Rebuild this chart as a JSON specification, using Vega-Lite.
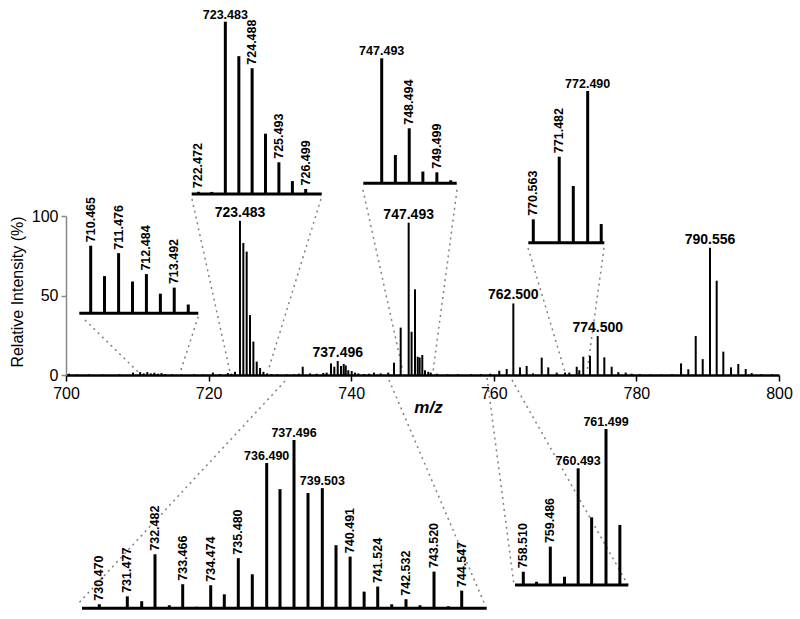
{
  "$schema": "https://vega.github.io/schema/vega-lite/v6.json",
  "width": 800,
  "height": 619,
  "autosize": "none",
  "padding": 0,
  "background": "white",
  "config": {"font": "Liberation Sans", "view": {"stroke": null}, "axis": {"grid": false}},
  "datasets": {
    "main": [
      {"mz":700.4,"i":0.8},{"mz":701.5,"i":0.4},{"mz":703.2,"i":0.5},{"mz":705.1,"i":0.4},{"mz":707.5,"i":0.5},{"mz":709.4,"i":1.5},{"mz":710.4,"i":1.8},{"mz":710.9,"i":1.0},{"mz":711.4,"i":1.8},{"mz":711.9,"i":1.0},{"mz":712.4,"i":1.4},{"mz":712.9,"i":0.8},{"mz":713.4,"i":1.2},{"mz":713.9,"i":0.6},{"mz":714.9,"i":0.5},{"mz":716.2,"i":0.4},{"mz":718.0,"i":0.5},{"mz":719.2,"i":0.4},{"mz":720.6,"i":1.5},{"mz":721.6,"i":0.6},{"mz":722.7,"i":1.2},{"mz":723.2,"i":0.8},{"mz":723.7,"i":2.0},
      {"mz":724.40,"i":97,"label":"723.483"},{"mz":724.87,"i":83},{"mz":725.34,"i":77.6},{"mz":725.81,"i":37.7},{"mz":726.28,"i":21},{"mz":726.75,"i":8.4},{"mz":727.22,"i":4.4},{"mz":727.69,"i":2},{"mz":728.2,"i":1},{"mz":728.8,"i":0.6},{"mz":729.6,"i":0.5},{"mz":731.0,"i":0.4},{"mz":732.0,"i":0.5},{"mz":732.65,"i":0.8},{"mz":733.2,"i":5.2},{"mz":734.22,"i":1.0},{"mz":735.16,"i":0.8},{"mz":736.09,"i":1.3},{"mz":736.56,"i":1.5},{"mz":737.17,"i":7.3},{"mz":737.63,"i":5.2},{"mz":738.11,"i":8.8,"label":"737.496"},{"mz":738.57,"i":5.7},{"mz":738.95,"i":6.9},{"mz":739.23,"i":6.0},{"mz":739.59,"i":3.0},{"mz":740.07,"i":2.5},{"mz":740.53,"i":1.5},{"mz":741.0,"i":1.0},{"mz":741.8,"i":0.6},{"mz":742.5,"i":0.8},{"mz":743.2,"i":1.5},{"mz":744.14,"i":1.0},{"mz":745.2,"i":1.5},
      {"mz":746.0,"i":7.7},{"mz":746.94,"i":29.8},{"mz":748.06,"i":95.8,"label":"747.493"},{"mz":748.47,"i":27.2},{"mz":748.95,"i":53.9},{"mz":749.33,"i":11.5},{"mz":749.6,"i":11},{"mz":749.97,"i":12.6},{"mz":750.35,"i":3},{"mz":750.81,"i":2},{"mz":751.15,"i":1.5},{"mz":752.0,"i":0.8},{"mz":753.5,"i":0.5},{"mz":755.0,"i":0.6},{"mz":756.8,"i":0.5},{"mz":758.2,"i":0.6},{"mz":759.5,"i":0.8},{"mz":760.77,"i":2.7},{"mz":761.81,"i":3.8},{"mz":762.74,"i":45,"label":"762.500"},{"mz":763.67,"i":4.8},{"mz":764.61,"i":5.7},{"mz":765.5,"i":1},{"mz":766.72,"i":10.9},{"mz":767.64,"i":4.8},{"mz":768.82,"i":1.5},{"mz":769.99,"i":1.5},{"mz":770.59,"i":1.5},{"mz":771.63,"i":5.2},{"mz":771.99,"i":3},{"mz":772.55,"i":11.5},{"mz":773.49,"i":12},{"mz":774.57,"i":24.5,"label":"774.500"},{"mz":775.50,"i":11.1},{"mz":776.53,"i":5.2},{"mz":777.46,"i":1.8},{"mz":778.50,"i":1.5},{"mz":779.34,"i":0.8},{"mz":780.5,"i":0.6},{"mz":782.0,"i":0.5},{"mz":783.5,"i":0.4},{"mz":785.0,"i":0.5},{"mz":786.26,"i":7.3},{"mz":787.28,"i":3.6},{"mz":788.32,"i":24.5},{"mz":789.30,"i":10},{"mz":790.32,"i":80,"label":"790.556"},{"mz":791.26,"i":59.3},{"mz":792.19,"i":14.7},{"mz":793.27,"i":4.8},{"mz":794.29,"i":6.9},{"mz":795.33,"i":3.8},{"mz":796.17,"i":1.2},{"mz":797.5,"i":0.5},{"mz":799.0,"i":0.4}
    ],
    "connectors": [
      {"from_mz":702.66,"from_int":34.6,"to_mz":710.1,"to_int":2},
      {"from_mz":718.55,"from_int":36.7,"to_mz":716.0,"to_int":1.5},
      {"from_mz":717.67,"from_int":110.7,"to_mz":723.0,"to_int":1.9},
      {"from_mz":735.76,"from_int":110.7,"to_mz":728.33,"to_int":2.5},
      {"from_mz":741.65,"from_int":116.4,"to_mz":747.27,"to_int":1.9},
      {"from_mz":754.84,"from_int":116.4,"to_mz":751.47,"to_int":1.9},
      {"from_mz":764.80,"from_int":79.9,"to_mz":769.99,"to_int":1.9},
      {"from_mz":775.46,"from_int":79.9,"to_mz":773.07,"to_int":1.9},
      {"from_mz":730.72,"from_int":-3.8,"to_mz":701.68,"to_int":-144},
      {"from_mz":745.3,"from_int":-3.1,"to_mz":758.77,"to_int":-144.7},
      {"from_mz":759.05,"from_int":-1.9,"to_mz":762.83,"to_int":-132.1},
      {"from_mz":762.55,"from_int":-3.1,"to_mz":778.82,"to_int":-132.1}
    ],
    "insetA": [
      {"mz":710.465,"i":100,"label":"710.465"},{"mz":710.965,"i":55},{"mz":711.476,"i":89,"label":"711.476"},{"mz":711.98,"i":47},{"mz":712.484,"i":58,"label":"712.484"},{"mz":712.99,"i":29},{"mz":713.492,"i":38,"label":"713.492"},{"mz":714.0,"i":13}
    ],
    "insetB": [
      {"mz":722.472,"i":1.3,"label":"722.472"},{"mz":722.97,"i":1.2},{"mz":723.483,"i":100,"label":"723.483"},{"mz":723.99,"i":80},{"mz":724.488,"i":73,"label":"724.488"},{"mz":724.99,"i":35},{"mz":725.493,"i":18.4,"label":"725.493"},{"mz":726.0,"i":7.5},{"mz":726.499,"i":2.9,"label":"726.499"}
    ],
    "insetC": [
      {"mz":747.493,"i":100,"label":"747.493"},{"mz":747.99,"i":22.6},{"mz":748.494,"i":44,"label":"748.494"},{"mz":748.99,"i":9.4},{"mz":749.499,"i":8.8,"label":"749.499"},{"mz":750.0,"i":2.4}
    ],
    "insetD": [
      {"mz":770.563,"i":15.4,"label":"770.563"},{"mz":771.482,"i":56.7,"label":"771.482"},{"mz":771.98,"i":37.4},{"mz":772.490,"i":100,"label":"772.490"},{"mz":772.97,"i":12.3}
    ],
    "insetE": [
      {"mz":730.470,"i":2.4,"label":"730.470"},{"mz":731.014,"i":0.6},{"mz":731.558,"i":7.1,"label":"731.477"},{"mz":732.117,"i":4.2},{"mz":732.634,"i":32.1,"label":"732.482"},{"mz":733.190,"i":1.8},{"mz":733.710,"i":14.3,"label":"733.466"},{"mz":734.254,"i":0.9},{"mz":734.798,"i":13.7,"label":"734.474"},{"mz":735.326,"i":8.3},{"mz":735.870,"i":29.8,"label":"735.480"},{"mz":736.414,"i":20.2},{"mz":736.973,"i":86.3,"label":"736.490"},{"mz":737.490,"i":70.8},{"mz":738.034,"i":100,"label":"737.496"},{"mz":738.578,"i":68.5},{"mz":739.134,"i":71.4,"label":"739.503"},{"mz":739.666,"i":37.5},{"mz":740.214,"i":30.7,"label":"740.491"},{"mz":740.758,"i":9.9},{"mz":741.286,"i":12.9,"label":"741.524"},{"mz":741.830,"i":2.4},{"mz":742.385,"i":5.4,"label":"742.532"},{"mz":742.929,"i":1.8},{"mz":743.473,"i":21.8,"label":"743.520"},{"mz":744.029,"i":1.2},{"mz":744.549,"i":10.5,"label":"744.547"},{"mz":745.105,"i":0.6}
    ],
    "insetF": [
      {"mz":758.51,"i":8.5,"label":"758.510"},{"mz":758.99,"i":2.1},{"mz":759.486,"i":24.6,"label":"759.486"},{"mz":760.0,"i":5.3},{"mz":760.493,"i":74.8,"label":"760.493"},{"mz":760.98,"i":43.4},{"mz":761.499,"i":100,"label":"761.499"},{"mz":762.0,"i":38.5}
    ]
  },
  "layer": [
    {
      "layer": [
        {
          "data": {"name": "connectors"},
          "mark": {"type": "rule", "strokeDash": [2, 4], "strokeWidth": 1.5, "color": "#808080"},
          "encoding": {
            "x": {"field": "from_mz", "type": "quantitative", "scale": {"domain": [700, 800], "range": [66, 779], "nice": false, "zero": false}, "axis": {"values": [700,720,740,760,780,800], "offset": -244, "domainColor": "black", "domainWidth": 2.5, "tickColor": "black", "tickWidth": 1.5, "tickSize": 6, "labelFontSize": 16, "labelColor": "black", "labelPadding": 4, "labelFlush": false, "title": "m/z", "titleFontSize": 17, "titleFontStyle": "italic", "titleFontWeight": "bold", "titleColor": "black", "titleX": 428, "titleY": 32, "titleBaseline": "middle", "titleAlign": "center"}},
            "y": {"field": "from_int", "type": "quantitative", "scale": {"domain": [0, 100], "range": [375, 216], "nice": false, "zero": false}, "axis": {"values": [0, 50, 100], "offset": -66, "domainColor": "#888888", "domainWidth": 1.5, "tickColor": "#888888", "tickWidth": 1.5, "tickSize": 5, "labelFontSize": 16, "labelColor": "black", "labelPadding": 3, "labelFlush": false, "title": "Relative Intensity (%)", "titleFontSize": 16, "titleFontWeight": "normal", "titleColor": "black", "titleX": -49, "titleY": 291.5, "titleAngle": 270, "titleBaseline": "middle", "titleAlign": "center"}},
            "x2": {"field": "to_mz"},
            "y2": {"field": "to_int"}
          }
        },
        {
          "data": {"name": "main"},
          "mark": {"type": "rule", "strokeWidth": 2, "color": "black"},
          "encoding": {
            "x": {"field": "mz", "type": "quantitative", "scale": {"domain": [700, 800], "range": [66, 779], "nice": false, "zero": false}},
            "y": {"field": "i", "type": "quantitative", "scale": {"domain": [0, 100], "range": [375, 216], "nice": false, "zero": false}},
            "y2": {"datum": 0}
          }
        },
        {
          "data": {"name": "main"},
          "transform": [{"filter": "isValid(datum.label)"}],
          "mark": {"type": "text", "baseline": "alphabetic", "dy": -4, "fontSize": 14, "fontWeight": "bold", "color": "black"},
          "encoding": {
            "x": {"field": "mz", "type": "quantitative", "scale": {"domain": [700, 800], "range": [66, 779], "nice": false, "zero": false}},
            "y": {"field": "i", "type": "quantitative", "scale": {"domain": [0, 100], "range": [375, 216], "nice": false, "zero": false}},
            "text": {"field": "label"}
          }
        }
      ]
    },
    {
      "data": {"name": "insetA"},
      "layer": [
        {"mark": {"type": "rule", "strokeWidth": 3, "color": "black"}, "encoding": {"x": {"field": "mz", "type": "quantitative", "scale": {"domain": [710.052, 714.364], "range": [79.3, 198.3], "nice": false, "zero": false}, "axis": null}, "y": {"field": "i", "type": "quantitative", "scale": {"domain": [0, 100], "range": [313.3, 245.7], "nice": false, "zero": false}, "axis": null}, "y2": {"datum": 0}}},
        {"data": {"values": [{}]}, "mark": {"type": "rule", "strokeWidth": 3, "color": "black"}, "encoding": {"x": {"datum": 710.052, "type": "quantitative", "axis": null}, "x2": {"datum": 714.364}, "y": {"datum": 0, "type": "quantitative", "axis": null}}},
        {"transform": [{"filter": "isValid(datum.label)"}, {"filter": {"not": {"field": "label", "oneOf": ["723.483","747.493","772.490","736.490","737.496","739.503","760.493","761.499"]}}}], "mark": {"type": "text", "angle": 270, "align": "left", "baseline": "middle", "dx": 3.5, "fontSize": 12.5, "fontWeight": "bold", "color": "black"}, "encoding": {"x": {"field": "mz", "type": "quantitative", "axis": null}, "y": {"field": "i", "type": "quantitative", "axis": null}, "text": {"field": "label"}}}
      ]
    },
    {
      "data": {"name": "insetB"},
      "layer": [
        {"mark": {"type": "rule", "strokeWidth": 3, "color": "black"}, "encoding": {"x": {"field": "mz", "type": "quantitative", "scale": {"domain": [722.22, 727.10], "range": [191.7, 321.7], "nice": false, "zero": false}, "axis": null}, "y": {"field": "i", "type": "quantitative", "scale": {"domain": [0, 100], "range": [194, 21.7], "nice": false, "zero": false}, "axis": null}, "y2": {"datum": 0}}},
        {"data": {"values": [{}]}, "mark": {"type": "rule", "strokeWidth": 3, "color": "black"}, "encoding": {"x": {"datum": 722.22, "type": "quantitative", "axis": null}, "x2": {"datum": 727.10}, "y": {"datum": 0, "type": "quantitative", "axis": null}}},
        {"transform": [{"filter": "isValid(datum.label)"}, {"filter": {"not": {"field": "label", "oneOf": ["723.483","747.493","772.490","736.490","737.496","739.503","760.493","761.499"]}}}], "mark": {"type": "text", "angle": 270, "align": "left", "baseline": "middle", "dx": 3.5, "fontSize": 12.5, "fontWeight": "bold", "color": "black"}, "encoding": {"x": {"field": "mz", "type": "quantitative", "axis": null}, "y": {"field": "i", "type": "quantitative", "axis": null}, "text": {"field": "label"}}},
        {"transform": [{"filter": {"field": "label", "oneOf": ["723.483","747.493","772.490","736.490","737.496","739.503","760.493","761.499"]}}], "mark": {"type": "text", "baseline": "alphabetic", "dy": -3, "fontSize": 12.5, "fontWeight": "bold", "color": "black"}, "encoding": {"x": {"field": "mz", "type": "quantitative", "axis": null}, "y": {"field": "i", "type": "quantitative", "axis": null}, "text": {"field": "label"}}}
      ]
    },
    {
      "data": {"name": "insetC"},
      "layer": [
        {"mark": {"type": "rule", "strokeWidth": 3, "color": "black"}, "encoding": {"x": {"field": "mz", "type": "quantitative", "scale": {"domain": [746.824, 750.22], "range": [363.3, 456.7], "nice": false, "zero": false}, "axis": null}, "y": {"field": "i", "type": "quantitative", "scale": {"domain": [0, 100], "range": [183.3, 58.3], "nice": false, "zero": false}, "axis": null}, "y2": {"datum": 0}}},
        {"data": {"values": [{}]}, "mark": {"type": "rule", "strokeWidth": 3, "color": "black"}, "encoding": {"x": {"datum": 746.824, "type": "quantitative", "axis": null}, "x2": {"datum": 750.22}, "y": {"datum": 0, "type": "quantitative", "axis": null}}},
        {"transform": [{"filter": "isValid(datum.label)"}, {"filter": {"not": {"field": "label", "oneOf": ["723.483","747.493","772.490","736.490","737.496","739.503","760.493","761.499"]}}}], "mark": {"type": "text", "angle": 270, "align": "left", "baseline": "middle", "dx": 3.5, "fontSize": 12.5, "fontWeight": "bold", "color": "black"}, "encoding": {"x": {"field": "mz", "type": "quantitative", "axis": null}, "y": {"field": "i", "type": "quantitative", "axis": null}, "text": {"field": "label"}}},
        {"transform": [{"filter": {"field": "label", "oneOf": ["723.483","747.493","772.490","736.490","737.496","739.503","760.493","761.499"]}}], "mark": {"type": "text", "baseline": "alphabetic", "dy": -3, "fontSize": 12.5, "fontWeight": "bold", "color": "black"}, "encoding": {"x": {"field": "mz", "type": "quantitative", "axis": null}, "y": {"field": "i", "type": "quantitative", "axis": null}, "text": {"field": "label"}}}
      ]
    },
    {
      "data": {"name": "insetD"},
      "layer": [
        {"mark": {"type": "rule", "strokeWidth": 3, "color": "black"}, "encoding": {"x": {"field": "mz", "type": "quantitative", "scale": {"domain": [770.386, 773.079], "range": [528.3, 604.3], "nice": false, "zero": false}, "axis": null}, "y": {"field": "i", "type": "quantitative", "scale": {"domain": [0, 100], "range": [242.7, 91], "nice": false, "zero": false}, "axis": null}, "y2": {"datum": 0}}},
        {"data": {"values": [{}]}, "mark": {"type": "rule", "strokeWidth": 3, "color": "black"}, "encoding": {"x": {"datum": 770.386, "type": "quantitative", "axis": null}, "x2": {"datum": 773.079}, "y": {"datum": 0, "type": "quantitative", "axis": null}}},
        {"transform": [{"filter": "isValid(datum.label)"}, {"filter": {"not": {"field": "label", "oneOf": ["723.483","747.493","772.490","736.490","737.496","739.503","760.493","761.499"]}}}], "mark": {"type": "text", "angle": 270, "align": "left", "baseline": "middle", "dx": 3.5, "fontSize": 12.5, "fontWeight": "bold", "color": "black"}, "encoding": {"x": {"field": "mz", "type": "quantitative", "axis": null}, "y": {"field": "i", "type": "quantitative", "axis": null}, "text": {"field": "label"}}},
        {"transform": [{"filter": {"field": "label", "oneOf": ["723.483","747.493","772.490","736.490","737.496","739.503","760.493","761.499"]}}], "mark": {"type": "text", "baseline": "alphabetic", "dy": -3, "fontSize": 12.5, "fontWeight": "bold", "color": "black"}, "encoding": {"x": {"field": "mz", "type": "quantitative", "axis": null}, "y": {"field": "i", "type": "quantitative", "axis": null}, "text": {"field": "label"}}}
      ]
    },
    {
      "data": {"name": "insetE"},
      "layer": [
        {"mark": {"type": "rule", "strokeWidth": 3, "color": "black"}, "encoding": {"x": {"field": "mz", "type": "quantitative", "scale": {"domain": [729.798, 745.52], "range": [82, 486.7], "nice": false, "zero": false}, "axis": null}, "y": {"field": "i", "type": "quantitative", "scale": {"domain": [0, 100], "range": [608.3, 440], "nice": false, "zero": false}, "axis": null}, "y2": {"datum": 0}}},
        {"data": {"values": [{}]}, "mark": {"type": "rule", "strokeWidth": 3, "color": "black"}, "encoding": {"x": {"datum": 729.798, "type": "quantitative", "axis": null}, "x2": {"datum": 745.52}, "y": {"datum": 0, "type": "quantitative", "axis": null}}},
        {"transform": [{"filter": "isValid(datum.label)"}, {"filter": {"not": {"field": "label", "oneOf": ["723.483","747.493","772.490","736.490","737.496","739.503","760.493","761.499"]}}}], "mark": {"type": "text", "angle": 270, "align": "left", "baseline": "middle", "dx": 3.5, "fontSize": 12.5, "fontWeight": "bold", "color": "black"}, "encoding": {"x": {"field": "mz", "type": "quantitative", "axis": null}, "y": {"field": "i", "type": "quantitative", "axis": null}, "text": {"field": "label"}}},
        {"transform": [{"filter": {"field": "label", "oneOf": ["723.483","747.493","772.490","736.490","737.496","739.503","760.493","761.499"]}}], "mark": {"type": "text", "baseline": "alphabetic", "dy": -3, "fontSize": 12.5, "fontWeight": "bold", "color": "black"}, "encoding": {"x": {"field": "mz", "type": "quantitative", "axis": null}, "y": {"field": "i", "type": "quantitative", "axis": null}, "text": {"field": "label"}}}
      ]
    },
    {
      "data": {"name": "insetF"},
      "layer": [
        {"mark": {"type": "rule", "strokeWidth": 3, "color": "black"}, "encoding": {"x": {"field": "mz", "type": "quantitative", "scale": {"domain": [758.21, 762.305], "range": [515, 628.3], "nice": false, "zero": false}, "axis": null}, "y": {"field": "i", "type": "quantitative", "scale": {"domain": [0, 100], "range": [585, 429], "nice": false, "zero": false}, "axis": null}, "y2": {"datum": 0}}},
        {"data": {"values": [{}]}, "mark": {"type": "rule", "strokeWidth": 3, "color": "black"}, "encoding": {"x": {"datum": 758.21, "type": "quantitative", "axis": null}, "x2": {"datum": 762.305}, "y": {"datum": 0, "type": "quantitative", "axis": null}}},
        {"transform": [{"filter": "isValid(datum.label)"}, {"filter": {"not": {"field": "label", "oneOf": ["723.483","747.493","772.490","736.490","737.496","739.503","760.493","761.499"]}}}], "mark": {"type": "text", "angle": 270, "align": "left", "baseline": "middle", "dx": 3.5, "fontSize": 12.5, "fontWeight": "bold", "color": "black"}, "encoding": {"x": {"field": "mz", "type": "quantitative", "axis": null}, "y": {"field": "i", "type": "quantitative", "axis": null}, "text": {"field": "label"}}},
        {"transform": [{"filter": {"field": "label", "oneOf": ["723.483","747.493","772.490","736.490","737.496","739.503","760.493","761.499"]}}], "mark": {"type": "text", "baseline": "alphabetic", "dy": -3, "fontSize": 12.5, "fontWeight": "bold", "color": "black"}, "encoding": {"x": {"field": "mz", "type": "quantitative", "axis": null}, "y": {"field": "i", "type": "quantitative", "axis": null}, "text": {"field": "label"}}}
      ]
    }
  ],
  "resolve": {"scale": {"x": "independent", "y": "independent"}}
}
